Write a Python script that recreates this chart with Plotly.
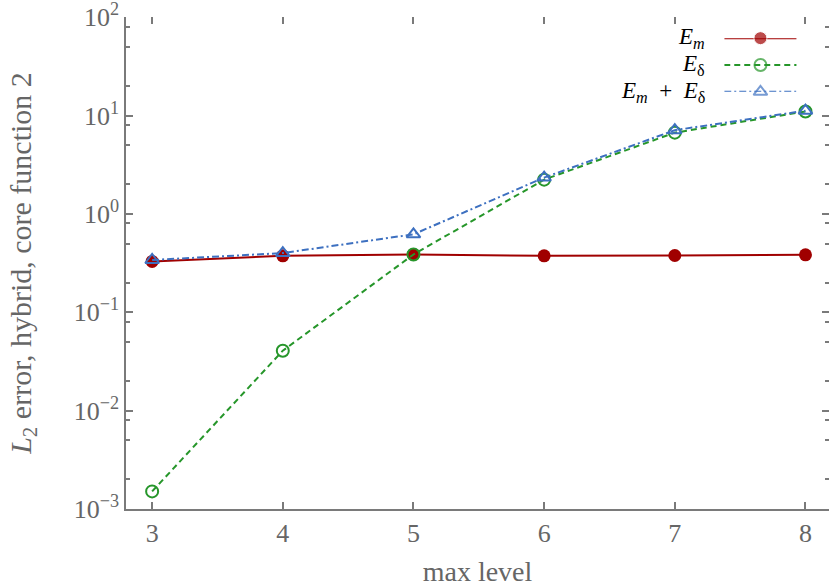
import plotly.graph_objects as go

# values
levels = [3, 4, 5, 6, 7, 8]
e_m = [0.329, 0.375, 0.387, 0.375, 0.378, 0.384]
e_delta = [0.00151, 0.0407, 0.387, 2.23, 6.7, 11.0]
e_sum = [0.34, 0.40, 0.62, 2.34, 7.1, 11.2]

y_major = [1e-3, 1e-2, 1e-1, 1e0, 1e1, 1e2]
y_major_text = ["10<sup>−3</sup>", "10<sup>−2</sup>", "10<sup>−1</sup>",
                "10<sup>0</sup>", "10<sup>1</sup>", "10<sup>2</sup>"]
y_minor = [m * d for d in [1e-3, 1e-2, 1e-1, 1e0, 1e1] for m in (2, 5, 8)]

legend_names = ["<i>E</i><sub><i>m</i></sub>",
                "<i>E</i><sub>δ</sub>",
                "<i>E</i><sub><i>m</i></sub>  +  <i>E</i><sub>δ</sub>"]

RED = "#a00000"
GREEN = "#26962a"
BLUE = "#3d70c0"
AXIS = "#7a7a7a"
TEXT = "#666666"
FONT = "Liberation Serif"

styles = [
    dict(line=dict(color=RED, width=2),
         marker=dict(symbol="circle", size=13, color=RED)),
    dict(line=dict(color=GREEN, width=2, dash="6px,4px"),
         marker=dict(symbol="circle-open", size=12, color=GREEN,
                     line=dict(width=2, color=GREEN))),
    dict(line=dict(color=BLUE, width=2, dash="7px,3px,2px,3px"),
         marker=dict(symbol="triangle-up-open", size=12, color=BLUE,
                     line=dict(width=2, color=BLUE))),
]

fig = go.Figure()
for ys, st in zip([e_m, e_delta, e_sum], styles):
    fig.add_scatter(x=levels, y=ys, mode="lines+markers", showlegend=False,
                    cliponaxis=False, **st)

# empty traces so the mirrored tick-only axes get drawn
fig.add_scatter(x=[], y=[], xaxis="x2", yaxis="y", showlegend=False)
fig.add_scatter(x=[], y=[], xaxis="x", yaxis="y2", showlegend=False)

# hand-made legend (text sits left of the sample line)
legend_rows = [2, 1, 0]
legend_y = [0.957, 0.902, 0.848]
for row, ly, name, st in zip(legend_rows, legend_y, legend_names, styles):
    fig.add_scatter(x=[0, 1, 2], y=[row] * 3, xaxis="x3", yaxis="y3",
                    mode="lines+markers", showlegend=False, cliponaxis=False,
                    line=st["line"],
                    marker={**st["marker"], "size": [0, st["marker"]["size"], 0]})
    fig.add_annotation(text=name, xref="paper", yref="paper", x=0.826, y=ly,
                       xanchor="right", yanchor="middle", showarrow=False,
                       font=dict(family=FONT, size=23, color="black"))

x_range = [2.8, 8.18]
y_range = [-3, 2.002]
tick_common = dict(ticks="inside", tickcolor=AXIS, tickwidth=1.5,
                   ticklen=7, showgrid=False, zeroline=False,
                   automargin=False)

fig.update_layout(
    width=830, height=587,
    margin=dict(l=126, r=1, t=17, b=78),
    plot_bgcolor="white", paper_bgcolor="white",
    font=dict(family=FONT, size=26, color=TEXT),
    xaxis=dict(range=x_range, tickvals=levels, showline=True,
               linecolor=AXIS, linewidth=1.5,
               title=dict(text="max level", standoff=16,
                          font=dict(size=28, color=TEXT)),
               **tick_common),
    yaxis=dict(type="log", range=y_range, tickvals=y_major,
               ticktext=y_major_text, showline=True,
               linecolor=AXIS, linewidth=1.5, ticklabeloverflow="allow",
               minor=dict(tickvals=y_minor, ticks="inside", ticklen=4,
                          tickcolor=AXIS, tickwidth=1.5),
               title=dict(text="<i>L</i><sub>2</sub> error, hybrid, core function 2",
                          standoff=33, font=dict(size=30, color=TEXT)),
               **tick_common),
    xaxis2=dict(overlaying="x", side="top", range=x_range, tickvals=levels,
                showticklabels=False, showline=False, **tick_common),
    yaxis2=dict(overlaying="y", side="right", type="log", range=y_range,
                tickvals=y_major, showticklabels=False, showline=False,
                minor=dict(tickvals=y_minor, ticks="inside", ticklen=4,
                           tickcolor=AXIS, tickwidth=1.5),
                **tick_common),
    xaxis3=dict(domain=[0.851, 0.954], range=[0, 2], visible=False,
                anchor="y3"),
    yaxis3=dict(domain=[0.848, 0.957], range=[0, 2], visible=False,
                anchor="x3"),
)

# drop the page's default body margin so the figure fills the window
fig.write_html("out.html", config={"displayModeBar": False},
               post_script="document.body.style.margin = '0px';")
